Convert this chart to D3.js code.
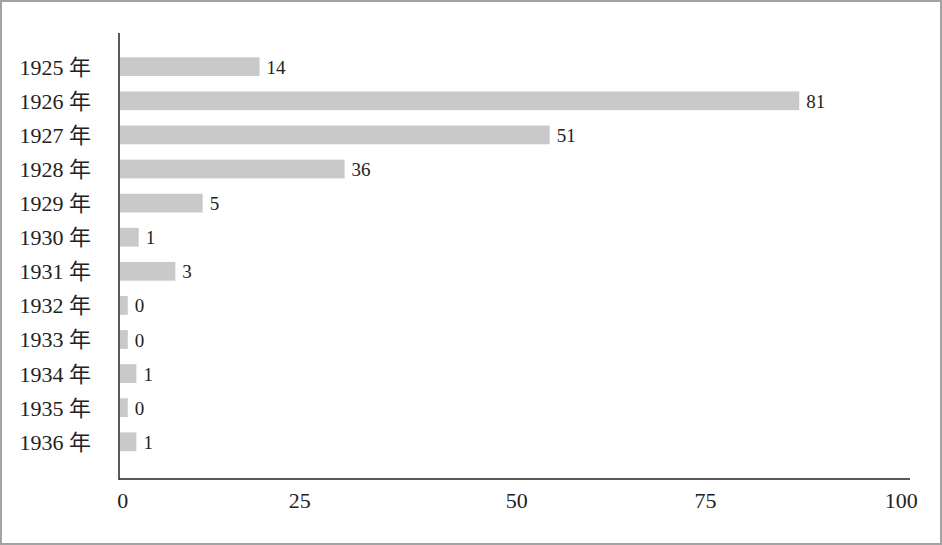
<!DOCTYPE html>
<html>
<head>
<meta charset="utf-8">
<script src="https://cdn.jsdelivr.net/npm/d3@7"></script>
<style>
  html, body { margin: 0; padding: 0; background: #fff; }
  svg { display: block; }
  text { font-family: "Liberation Serif", "Noto Sans CJK SC", serif; fill: #222; }
</style>
</head>
<body>
<svg id="chart" width="942" height="545"></svg>
<script>
// Category labels (y axis)
const years = ["1925 年", "1926 年", "1927 年", "1928 年", "1929 年", "1930 年",
               "1931 年", "1932 年", "1933 年", "1934 年", "1935 年", "1936 年"];
// Value labels printed next to each bar
const valueLabels = [14, 81, 51, 36, 5, 1, 3, 0, 0, 1, 0, 1];
// Bar lengths as drawn in the picture, in x-axis units
const barLengths = [17.9, 87.1, 55.1, 28.8, 10.6, 2.4, 7.1, 1.0, 1.0, 2.1, 1.0, 2.1];
// X axis tick labels and where they sit on the axis (as drawn)
const tickLabels = ["0", "25", "50", "75", "100"];
const tickPositions = [0.3, 23.0, 50.8, 75.0, 100.1];
const xMax = 101.3;

const svg = d3.select("#chart");
const W = 942, H = 545;

svg.append("rect").attr("x", 1).attr("y", 1).attr("width", W - 2).attr("height", H - 2)
  .attr("fill", "#fff").attr("stroke", "#a3a3a3").attr("stroke-width", 2);

const x = d3.scaleLinear().domain([0, xMax]).range([120, 910]);
const y = d3.scaleBand().domain(years).range([49.65, 458.85])
  .paddingInner(0.45).paddingOuter(0.225);

const axisY = 479, axisX = 119;

// bars
svg.append("g").selectAll("rect").data(years).join("rect")
  .attr("x", x(0))
  .attr("y", d => y(d))
  .attr("width", (d, i) => x(barLengths[i]) - x(0))
  .attr("height", y.bandwidth())
  .attr("fill", "#c9c9c9");

// value labels
svg.append("g").selectAll("text").data(years).join("text")
  .attr("x", (d, i) => x(barLengths[i]) + 7)
  .attr("y", d => y(d) + y.bandwidth() / 2 + 7)
  .attr("font-size", 19)
  .text((d, i) => valueLabels[i]);

// y axis
const yAxis = svg.append("g").attr("transform", `translate(${axisX},0)`)
  .call(d3.axisLeft(y).tickSize(0).tickPadding(28));
yAxis.select(".domain").remove();
yAxis.selectAll("text").attr("font-size", 22).attr("fill", "#222")
  .attr("font-family", "'Liberation Serif', 'Noto Sans CJK SC', serif")
  .attr("dy", "0.36em");
svg.append("line").attr("x1", axisX).attr("x2", axisX).attr("y1", 33).attr("y2", axisY + 0.75)
  .attr("stroke", "#222").attr("stroke-width", 1.5);

// x axis
const xAxis = svg.append("g").attr("transform", `translate(0,${axisY})`)
  .call(d3.axisBottom(x).tickValues(tickPositions).tickSize(0).tickPadding(13)
    .tickFormat((d, i) => tickLabels[i]));
xAxis.select(".domain").remove();
xAxis.selectAll("text").attr("font-size", 22).attr("fill", "#222")
  .attr("font-family", "'Liberation Serif', serif");
svg.append("line").attr("x1", axisX).attr("x2", x(xMax)).attr("y1", axisY).attr("y2", axisY)
  .attr("stroke", "#222").attr("stroke-width", 1.5);
</script>
</body>
</html>
